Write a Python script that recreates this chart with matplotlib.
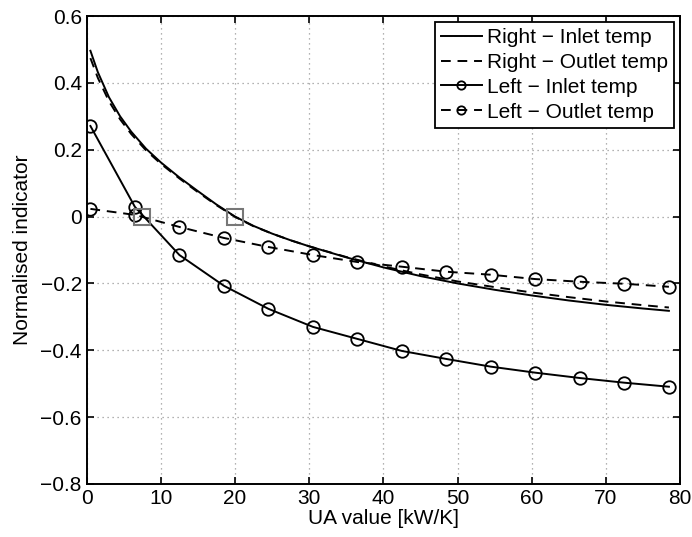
import numpy as np
import matplotlib.pyplot as plt

plt.rcParams['font.family'] = ['Liberation Sans', 'DejaVu Sans']

# valori
x_right = [0.5, 1.5, 3, 4.5, 6, 8, 10, 12.5, 15, 17.5, 20, 22.5, 25, 27.5, 30,
           35, 40, 45, 50, 55, 60, 65, 70, 75, 78.5]
right_inlet = [0.496, 0.432, 0.357, 0.300, 0.254, 0.203, 0.162, 0.117, 0.076, 0.036,
               0.000, -0.028, -0.051, -0.071, -0.089, -0.122, -0.152, -0.178, -0.200,
               -0.219, -0.236, -0.251, -0.264, -0.275, -0.282]
right_outlet = [0.474, 0.415, 0.345, 0.291, 0.247, 0.198, 0.158, 0.114, 0.073, 0.034,
                -0.001, -0.029, -0.051, -0.071, -0.089, -0.121, -0.149, -0.173, -0.194,
                -0.211, -0.227, -0.241, -0.254, -0.265, -0.272]

x_left = [0.5, 6.5, 12.5, 18.5, 24.5, 30.5, 36.5, 42.5, 48.5, 54.5, 60.5, 66.5, 72.5, 78.5]
left_inlet = [0.271, 0.029, -0.115, -0.207, -0.276, -0.330, -0.366, -0.402,
              -0.426, -0.449, -0.467, -0.483, -0.497, -0.509]
left_outlet = [0.023, 0.005, -0.031, -0.064, -0.091, -0.115, -0.136, -0.150,
               -0.165, -0.174, -0.187, -0.195, -0.201, -0.210]

zero_x = [7.5, 20]
zero_y = [0, 0]

fig = plt.figure(figsize=(6.92, 5.37), dpi=100)
ax = fig.add_axes([0.1253, 0.0987, 0.8574, 0.8715])

ax.plot(x_right, right_inlet, 'k-', lw=1.4, label='Right \u2212 Inlet temp')
ax.plot(x_right, right_outlet, 'k--', lw=1.4, dashes=(5, 3.5), label='Right \u2212 Outlet temp')
ax.plot(x_left, left_inlet, 'k-', lw=1.4, marker='o', ms=9, mfc='none', mew=1.3,
        label='Left \u2212 Inlet temp')
ax.plot(x_left, left_outlet, 'k--', lw=1.4, dashes=(5, 3.5), marker='o', ms=9, mfc='none',
        mew=1.3, label='Left \u2212 Outlet temp')
ax.plot(zero_x, zero_y, ls='none', marker='s', ms=11, mfc='none', mec='#777777', mew=1.5)

ax.set_xlim(0, 80)
ax.set_ylim(-0.8, 0.6)
ax.set_xticks(np.arange(0, 81, 10))
ax.set_yticks(np.arange(-0.8, 0.61, 0.2))
ax.set_yticklabels(['\u22120.8', '\u22120.6', '\u22120.4', '\u22120.2', '0', '0.2', '0.4', '0.6'])
ax.grid(True, ls=(0, (1, 3)), color='#999999', lw=0.9)
ax.tick_params(direction='in', top=True, right=True, labelsize=15, length=5, width=1.2)
for s in ax.spines.values():
    s.set_linewidth(1.4)

ax.set_xlabel('UA value [kW/K]', fontsize=15, labelpad=1)
ax.set_ylabel('Normalised indicator', fontsize=15, labelpad=6)

leg = ax.legend(loc='upper right', fontsize=15, handlelength=1.97, handletextpad=0.24,
                borderpad=0.3, labelspacing=0.28, borderaxespad=0.28, fancybox=False,
                framealpha=1, edgecolor='black')
leg.get_frame().set_linewidth(1.3)
for h in leg.legend_handles:
    h.set_markersize(6)

fig.savefig('out.png', dpi=100)
